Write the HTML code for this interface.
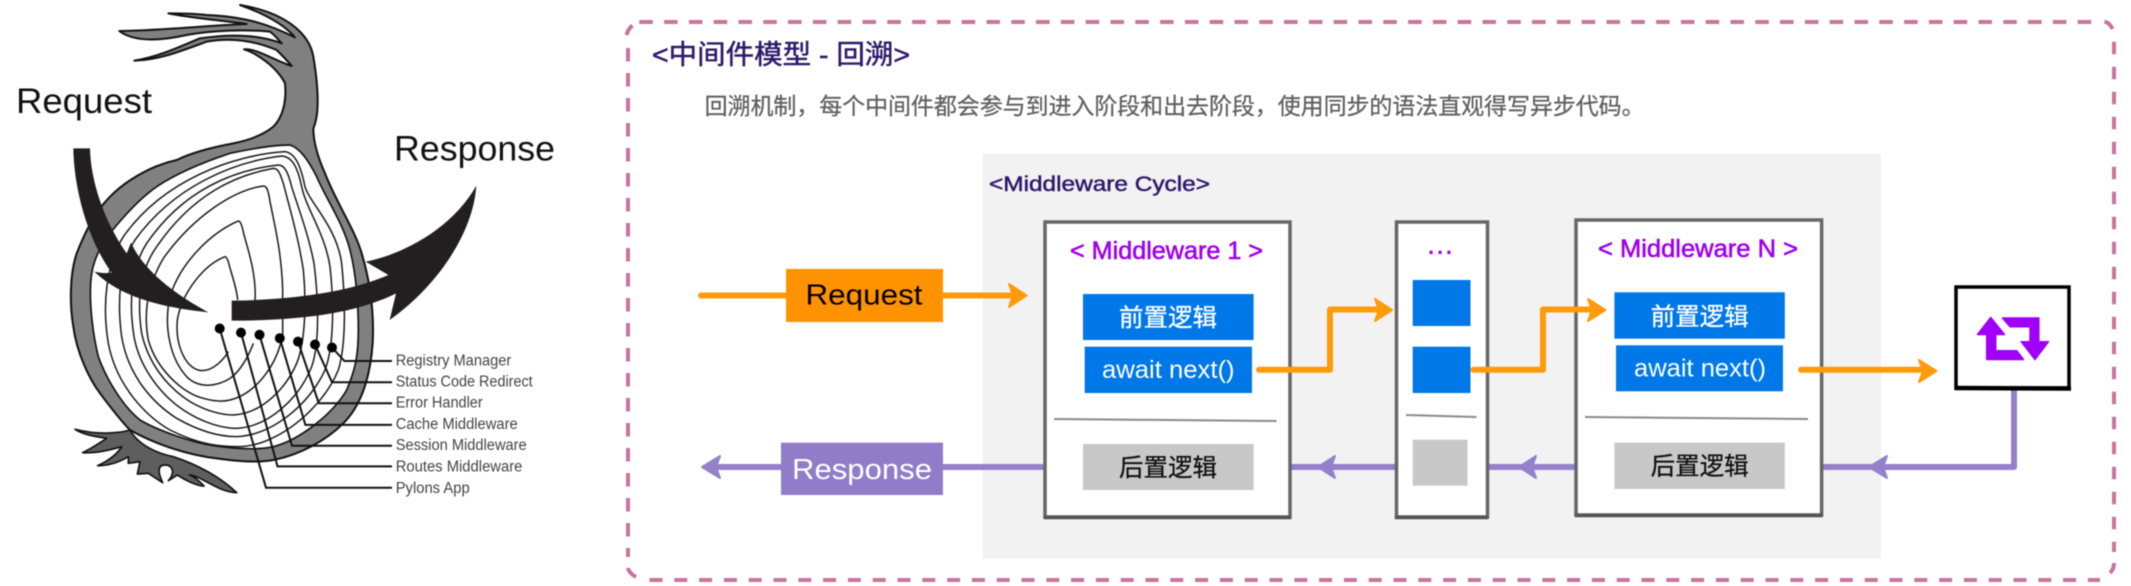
<!DOCTYPE html>
<html lang="zh">
<head>
<meta charset="utf-8">
<title>Middleware</title>
<style>
html,body{margin:0;padding:0;background:#fff;width:2131px;height:586px;overflow:hidden}
svg{display:block;filter:blur(0.4px)}
text{font-family:"Liberation Sans","Noto Sans CJK SC",sans-serif}
</style>
</head>
<body>
<svg xmlns="http://www.w3.org/2000/svg" width="2131" height="586" viewBox="0 0 2131 586">
<rect width="2131" height="586" fill="#fff"/>

<!-- ONION -->
<g transform="translate(60,130) scale(0.33333)">
  <path d="M210,900 C180,910 110,915 45,898 C70,915 110,920 140,925 C110,945 85,960 68,968 C110,970 150,960 185,950 C170,975 140,995 113,1007 C150,1007 180,995 205,980 L205,1000 L240,995 L232,1032 L265,1030 L308,1058 C295,1030 290,1005 315,1005 C340,1005 345,1030 325,1052 L352,1035 C375,1050 410,1068 432,1068 C420,1055 405,1040 388,1035 C430,1040 470,1085 530,1088 C490,1050 430,1010 340,980 C290,970 235,945 210,900 Z" fill="#5e5e5e" stroke="#111" stroke-width="5" stroke-linejoin="round"/>
  <path d="M760,-5 C780,-50 775,-130 760,-220 C750,-280 690,-350 540,-375 C610,-350 670,-320 705,-278 C630,-315 560,-340 440,-345 C400,-350 360,-350 325,-350 C400,-335 480,-330 560,-318 C420,-312 290,-298 178,-297 C220,-265 290,-265 380,-285 C460,-300 560,-302 630,-295 C645,-285 655,-270 665,-260 C600,-285 520,-290 420,-275 C370,-255 300,-220 223,-208 C300,-210 370,-240 440,-265 C520,-280 590,-265 650,-240 C665,-225 685,-205 695,-192 C640,-210 590,-245 552,-242 C590,-230 650,-190 675,-140 C680,-90 670,-40 640,-10 C610,15 570,30 520,40 C440,55 390,70 350,90 C260,110 190,160 150,200 C100,250 70,320 50,370 C30,430 28,520 40,590 C50,670 90,750 120,790 C150,830 190,880 210,900 C280,940 380,975 470,985 C540,995 600,998 640,990 C720,975 800,930 850,880 C900,830 930,750 938,640 C942,560 935,470 905,370 C885,300 830,220 795,130 C775,85 760,40 760,-5 Z" fill="#808080" stroke="#111" stroke-width="6" stroke-linejoin="round"/>
  <path d="M690,45 C720,55 745,90 770,140 C800,210 850,280 870,360 C890,440 895,520 895,600 C895,680 885,720 860,780 C820,850 720,930 640,950 C590,962 510,955 450,945 C390,935 290,900 240,870 C190,830 140,750 115,680 C100,620 88,530 92,460 C95,390 125,345 150,310 C190,260 240,205 290,170 C350,130 420,100 510,70 C580,55 640,45 690,45 Z" fill="#fff" stroke="#111" stroke-width="5"/>
  <g fill="none" stroke="#1a1a1a" stroke-width="4.5">
    <path d="M675,65 C520,75 310,150 190,320 C140,400 125,520 145,640 C170,770 260,860 330,900 C420,945 480,950 540,950 C660,945 790,830 835,720 C860,640 855,500 845,400 C830,290 750,220 735,170 C725,120 710,70 675,65 Z"/>
    <path d="M665,78 C520,95 340,170 225,330 C180,400 170,510 185,620 C205,740 280,820 350,865 C420,905 480,920 530,920 C640,915 750,820 795,720 C825,640 820,500 810,410 C795,310 740,240 725,170 C715,120 700,80 665,78 Z"/>
    <path d="M655,105 C520,120 370,180 260,340 C215,410 205,510 222,620 C240,720 310,800 370,840 C430,880 490,895 530,895 C630,890 720,800 755,710 C780,640 775,500 762,400 C745,310 710,220 695,170 C685,130 675,105 655,105 Z"/>
    <path d="M640,115 C530,135 400,190 290,350 C240,420 230,510 245,610 C265,700 320,770 390,815 C440,845 490,855 520,855 C610,850 680,770 710,700 C735,640 740,520 730,420 C715,320 685,220 670,160 C660,130 655,115 640,115 Z"/>
    <path d="M610,168 C520,180 400,260 310,385 C260,470 250,550 265,630 C290,720 370,790 430,805 C465,815 490,815 510,810 C590,790 655,700 668,610 L668,480 C665,370 645,290 630,215 C625,180 620,168 610,168 Z"/>
    <path d="M585,510 C590,440 565,360 552,315 C545,280 540,273 535,273 C450,310 360,400 330,500 C310,590 330,690 385,745 C420,775 470,770 510,745 C540,725 565,680 580,640"/>
    <path d="M533,510 C530,470 510,420 505,395 C500,382 497,380 495,380 C430,405 365,490 352,570 C345,650 380,720 425,722 C460,722 490,690 505,665"/>
  </g>
  <g fill="#231f20">
    <path d="M40,55 L90,55 C92,150 130,270 200,370 L213,338 C250,420 340,490 445,547 C330,535 190,510 103,425 C125,430 140,430 155,428 C90,340 42,190 40,55 Z"/>
    <path d="M515,512 C680,510 860,490 985,435 L917,395 C1040,370 1180,290 1249,167 C1240,310 1130,470 989,570 L1008,490 C880,555 700,572 515,572 Z"/>
  </g>
</g>

<!-- leaders -->
<g fill="none" stroke="#111" stroke-width="2">
  <path d="M332,347.5 L344.4,361 L392,361"/>
  <path d="M315,344.5 L332,382.3 L392,382.3"/>
  <path d="M298,341.6 L318.8,403.2 L392,403.2"/>
  <path d="M279.8,338.2 L305.4,424.9 L392,424.9"/>
  <path d="M259.5,334.8 L292,445.8 L392,445.8"/>
  <path d="M241,332.6 L277.5,466.4 L392,466.4"/>
  <path d="M219.7,328.5 L266,487.7 L392,487.7"/>
</g>
<g fill="#000">
  <circle cx="332" cy="347.5" r="5"/><circle cx="315" cy="344.5" r="5"/><circle cx="298" cy="341.6" r="5"/><circle cx="279.8" cy="338.2" r="5"/><circle cx="259.5" cy="334.8" r="5"/><circle cx="241" cy="332.6" r="5"/><circle cx="219.7" cy="328.5" r="5"/>
</g>

<text x="16" y="113" font-size="35" fill="#111" textLength="136" lengthAdjust="spacingAndGlyphs">Request</text>
<text x="394" y="160.7" font-size="35" fill="#111" textLength="161" lengthAdjust="spacingAndGlyphs">Response</text>
<g font-size="15.5" fill="#444">
  <text x="395.7" y="365.5" textLength="115.6" lengthAdjust="spacingAndGlyphs">Registry Manager</text>
  <text x="395.7" y="386.3" textLength="137" lengthAdjust="spacingAndGlyphs">Status Code Redirect</text>
  <text x="395.7" y="407.5" textLength="87" lengthAdjust="spacingAndGlyphs">Error Handler</text>
  <text x="395.7" y="429" textLength="122" lengthAdjust="spacingAndGlyphs">Cache Middleware</text>
  <text x="395.7" y="450.2" textLength="131" lengthAdjust="spacingAndGlyphs">Session Middleware</text>
  <text x="395.7" y="471.5" textLength="126.7" lengthAdjust="spacingAndGlyphs">Routes Middleware</text>
  <text x="395.7" y="492.8" textLength="74" lengthAdjust="spacingAndGlyphs">Pylons App</text>
</g>

<!-- DASHED FRAME -->
<g fill="none" stroke="#c9749f" stroke-width="4">
  <line x1="639.3" y1="22" x2="2100" y2="22" stroke-dasharray="13.5 11.3"/>
  <line x1="649.5" y1="580" x2="2100" y2="580" stroke-dasharray="13 11.8"/>
  <line x1="628" y1="48" x2="628" y2="557" stroke-dasharray="13.5 11.5"/>
  <line x1="2114" y1="41.7" x2="2114" y2="552" stroke-dasharray="12.5 12.5"/>
  <path d="M626.5,35 Q628,29 632.5,25.5"/>
  <path d="M2104.5,21.5 Q2110,23 2112.5,29"/>
  <path d="M2114,563 Q2114,569 2110,573"/>
  <path d="M628,568 Q629,573 636,577"/>
</g>

<text x="652" y="64" font-size="27" fill="#2e1a6b" stroke="#2e1a6b" stroke-width="0.5" textLength="258" lengthAdjust="spacingAndGlyphs">&lt;中间件模型 - 回溯&gt;</text>
<text x="704.6" y="114" font-size="23" fill="#5f5f5f" stroke="#5f5f5f" stroke-width="0.25" textLength="940" lengthAdjust="spacing">回溯机制，每个中间件都会参与到进入阶段和出去阶段，使用同步的语法直观得写异步代码。</text>

<!-- gray panel -->
<rect x="982.6" y="154" width="898.4" height="404.7" fill="#f2f2f2"/>
<text x="989" y="191" font-size="21" fill="#2e1a6b" stroke="#2e1a6b" stroke-width="0.5" textLength="221" lengthAdjust="spacingAndGlyphs">&lt;Middleware Cycle&gt;</text>

<!-- purple connectors beneath boxes -->
<g fill="none" stroke-width="6" stroke-linejoin="round">
  <path d="M712,467 L1045,467" stroke="#9580cc"/>
  <path d="M1290,467 L1400,467" stroke="#9580cc"/>
  <path d="M1487,467 L1578,467" stroke="#9580cc"/>
  <path d="M1822,467 L2014,467 L2014,388" stroke="#9580cc"/>
</g>
<g fill="#9580cc" stroke="#9580cc" stroke-width="2" stroke-linejoin="round">
  <path d="M720,456 L702,467 L720,478 L716,467 Z"/>
  <path d="M1335,456 L1318,467 L1335,478 L1331,467 Z"/>
  <path d="M1536,456 L1519,467 L1536,478 L1532,467 Z"/>
  <path d="M1887,456 L1869,467 L1887,478 L1883,467 Z"/>
</g>

<!-- Request / Response -->
<path d="M701,295.5 L786,295.5" stroke="#ff9a0a" stroke-width="6" stroke-linecap="round"/>
<rect x="781" y="442.7" width="162" height="52.3" fill="#907cc8"/>
<text x="792" y="479" font-size="29" fill="#fff" textLength="140" lengthAdjust="spacingAndGlyphs">Response</text>

<!-- Box 1 -->
<rect x="1045" y="222" width="245" height="295" fill="#fff" stroke="#666" stroke-width="3.5"/>
<line x1="1044" y1="517.5" x2="1291" y2="517.5" stroke="#555" stroke-width="3.5"/>
<text x="1070" y="259" font-size="25" fill="#a000f0" stroke="#a000f0" stroke-width="0.6" textLength="193" lengthAdjust="spacingAndGlyphs">&lt; Middleware 1 &gt;</text>
<rect x="1083" y="294" width="170.6" height="46" fill="#0078e8"/>
<text x="1119" y="326" font-size="24.5" fill="#fff" stroke="#fff" stroke-width="0.3" textLength="98" lengthAdjust="spacing">前置逻辑</text>
<rect x="1084.7" y="346.7" width="167.3" height="46.3" fill="#0078e8"/>
<text x="1102" y="378" font-size="25" fill="#fff" textLength="132.6" lengthAdjust="spacingAndGlyphs">await next()</text>
<path d="M1054,418 L1276.5,420 L1276.5,422 L1054,420 Z" fill="#8a8a8a"/>
<rect x="1083" y="444" width="170.6" height="46" fill="#c8c8c8"/>
<text x="1119" y="476" font-size="24.5" fill="#111" stroke="#111" stroke-width="0.3" textLength="98" lengthAdjust="spacing">后置逻辑</text>

<!-- Box ... -->
<rect x="1396.5" y="222" width="91" height="295" fill="#fff" stroke="#666" stroke-width="3.5"/>
<line x1="1395" y1="517.5" x2="1488" y2="517.5" stroke="#555" stroke-width="3.5"/>
<text x="1428" y="254" font-size="22" font-weight="bold" fill="#a000f0" textLength="24" lengthAdjust="spacing">...</text>
<rect x="1412.7" y="280" width="57.8" height="46" fill="#0078e8"/>
<rect x="1412.7" y="346.7" width="57.8" height="46.3" fill="#0078e8"/>
<path d="M1406,414 L1476.5,416 L1476.5,418 L1406,416 Z" fill="#8a8a8a"/>
<rect x="1412.7" y="439.7" width="54.8" height="46" fill="#c8c8c8"/>

<!-- Box N -->
<rect x="1576" y="220" width="245.6" height="295" fill="#fff" stroke="#666" stroke-width="3.5"/>
<line x1="1575" y1="515.5" x2="1822.5" y2="515.5" stroke="#555" stroke-width="3.5"/>
<text x="1598" y="257" font-size="25" fill="#a000f0" stroke="#a000f0" stroke-width="0.6" textLength="200" lengthAdjust="spacingAndGlyphs">&lt; Middleware N &gt;</text>
<rect x="1614.4" y="292.3" width="170.4" height="46.4" fill="#0078e8"/>
<text x="1650.6" y="325" font-size="24.5" fill="#fff" stroke="#fff" stroke-width="0.3" textLength="98" lengthAdjust="spacing">前置逻辑</text>
<rect x="1616" y="345.3" width="167" height="46" fill="#0078e8"/>
<text x="1634" y="376.7" font-size="25" fill="#fff" textLength="132" lengthAdjust="spacingAndGlyphs">await next()</text>
<path d="M1585,416 L1808,418 L1808,420 L1585,418 Z" fill="#8a8a8a"/>
<rect x="1614.4" y="442.7" width="170.4" height="46.3" fill="#c8c8c8"/>
<text x="1650.6" y="474.5" font-size="24.5" fill="#111" stroke="#111" stroke-width="0.3" textLength="98" lengthAdjust="spacing">后置逻辑</text>

<!-- Request box and orange connectors above boxes -->
<rect x="786" y="269" width="157" height="53" fill="#ff9200"/>
<text x="805.5" y="304.5" font-size="29" fill="#000" textLength="117" lengthAdjust="spacingAndGlyphs">Request</text>
<g fill="none" stroke="#ff9a0a" stroke-width="6" stroke-linecap="round" stroke-linejoin="round">
  <path d="M943,295.5 L1015,295.5"/>
  <path d="M1259,369.7 L1330,369.7 L1330,309.5 L1380,309.5"/>
  <path d="M1473.5,369.7 L1543,369.7 L1543,309.5 L1594,309.5"/>
  <path d="M1801,369.7 L1925,369.7"/>
</g>
<g fill="#ff9a0a" stroke="#ff9a0a" stroke-width="2" stroke-linejoin="round">
  <path d="M1009,284 L1026.5,295.5 L1009,307 L1013,295.5 Z"/>
  <path d="M1375,299 L1392,310 L1375,321 L1379,310 Z"/>
  <path d="M1588,299 L1605.5,310 L1588,321 L1592,310 Z"/>
  <path d="M1919,360 L1936.5,371 L1919,382 L1923,371 Z"/>
</g>

<!-- Loop icon box -->
<rect x="1956" y="287" width="113" height="101" fill="#fff" stroke="#000" stroke-width="3.5"/>
<line x1="1954.5" y1="388" x2="2071" y2="388.5" stroke="#000" stroke-width="4.5"/>
<g fill="#a000f8" stroke="#a000f8" stroke-width="1.5" stroke-linejoin="round">
  <path d="M1990.7,317.5 L2004.5,334.5 L1995.7,334.5 L1995.7,350.7 L2016.7,350.7 L2023.5,359.5 L1986.7,359.5 L1986.7,334.5 L1977.5,334.5 Z"/>
  <path d="M2002.5,318 L2038.8,318 L2038.8,341.7 L2048.5,341.7 L2035,359.5 L2021.2,341.7 L2030,341.7 L2030,326.7 L2010,326.7 Z"/>
</g>
</svg>
</body>
</html>
